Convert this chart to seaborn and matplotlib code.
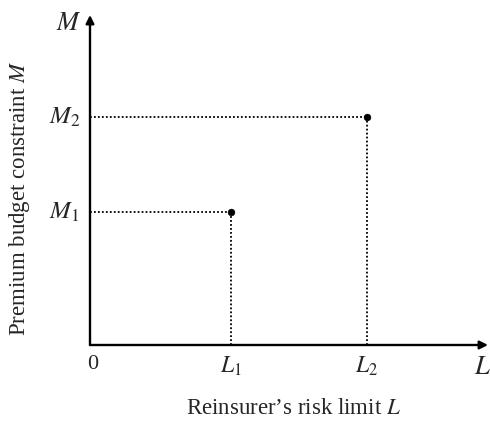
import numpy as np
import pandas as pd
import matplotlib
matplotlib.use('Agg')
import matplotlib.pyplot as plt
import seaborn as sns

# data: two (L, M) points
point_names = ['1', '2']
L_vals = [1.0, 1.96]
M_vals = [1.0, 1.71]
x_max = 2.82
y_max = 2.48

sns.set_style('white')
plt.rcParams['font.family'] = ['Liberation Serif', 'DejaVu Serif']
plt.rcParams['mathtext.fontset'] = 'stix'

df = pd.DataFrame({'L': L_vals, 'M': M_vals, 'name': point_names})

fig = plt.figure(figsize=(4.9, 4.21), dpi=100)
ax = fig.add_axes([90 / 490, 76 / 421, 398 / 490, 330 / 421])

# dotted guides
for l, m in zip(L_vals, M_vals):
    ax.plot([0, l], [m, m], color='black', linestyle=(0, (1, 1.2)), linewidth=1.3)
    ax.plot([l, l], [0, m], color='black', linestyle=(0, (1, 1.2)), linewidth=1.3)

sns.scatterplot(data=df, x='L', y='M', color='black', s=24, ax=ax,
                edgecolor='black', zorder=5, legend=False)
ax.set_xlabel('')
ax.set_ylabel('')

# axes with arrows
for end in [(x_max, 0), (0, y_max)]:
    ax.annotate('', xy=end, xytext=(0, 0),
                arrowprops=dict(arrowstyle='-|>', color='black', lw=1.7,
                                mutation_scale=12, shrinkA=0, shrinkB=0),
                annotation_clip=False)

ax.set_xlim(0, x_max)
ax.set_ylim(0, y_max)
sns.despine(ax=ax, left=True, bottom=True)
ax.set_xticks([])
ax.set_yticks([])

# labels
for n, l in zip(point_names, L_vals):
    ax.text(l, -0.16, r'$L_{%s}$' % n, ha='center', va='center', fontsize=17)
for n, m in zip(point_names, M_vals):
    ax.text(-0.18, m, r'$M_{%s}$' % n, ha='center', va='center', fontsize=18)
ax.text(0.02, -0.145, '0', ha='center', va='center', fontsize=16)
ax.text(2.78, -0.17, r'$L$', ha='center', va='center', fontsize=19)
ax.text(-0.15, 2.415, r'$M$', ha='center', va='center', fontsize=19)

fig.text(293 / 490, 1 - 408 / 421, r'Reinsurer’s risk limit $L$',
         ha='center', va='center', fontsize=16.5)
fig.text(20 / 490, 1 - 198 / 421, r'Premium budget constraint $M$',
         ha='center', va='center', rotation=90, fontsize=16.5)

fig.savefig('out.png', dpi=100)
